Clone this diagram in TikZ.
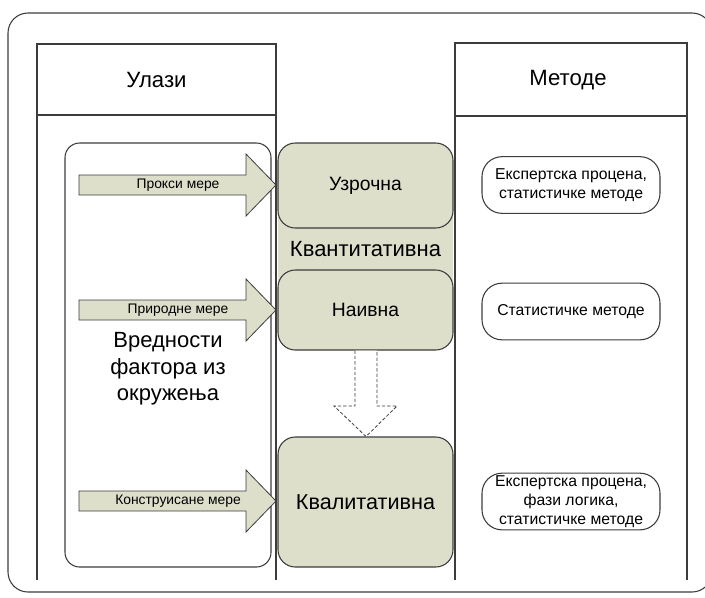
\documentclass[tikz,border=0pt]{standalone}
\usepackage{fontspec}
\setmainfont{Liberation Sans}
\definecolor{grn}{RGB}{221,223,203}
\definecolor{ln}{RGB}{60,60,60}
\tikzset{
  frame/.style={draw=ln, line width=0.8pt},
  hdrtext/.style={font=\fontsize{16.6}{19}\selectfont, inner sep=0pt},
  greenbox/.style={draw=ln, fill=grn, line width=0.8pt, rounded corners=13pt,
     inner sep=0pt, minimum width=131.25pt, align=center},
  smallbox/.style={greenbox, font=\fontsize{14.5}{17}\selectfont},
  bigbox/.style={greenbox, font=\fontsize{16.2}{19}\selectfont},
  blockarrow/.style={draw=ln, fill=grn, line width=0.6pt},
  arrlabel/.style={font=\fontsize{10.4}{12}\selectfont, inner sep=0pt},
  pill/.style={draw=ln, fill=white, line width=0.8pt, rounded corners=15pt,
     minimum width=133.5pt, minimum height=42.5pt, inner sep=0pt, align=center,
     font=\fontsize{11.8}{14.4}\selectfont},
}
\begin{document}
\begin{tikzpicture}[x=0.75pt,y=-0.75pt]
\useasboundingbox (0,0) rectangle (705,597);
\clip (0,0) rectangle (705,597);
% outer frame
\draw[frame, rounded corners=15pt] (8,13) rectangle (712,592);
% left column
\draw[frame] (37,580) -- (37,44) -- (276,44) -- (276,580);
\draw[frame] (37,115) -- (276,115);
\node[hdrtext] (ulazi) at (156.5,80) {Улази};
% right column
\draw[frame] (455,580) -- (455,43) -- (687,43) -- (687,580);
\draw[frame] (455,116) -- (687,116);
\node[hdrtext] (metode) at (568,80) {Методе};
% inner rounded rect
\draw[frame, rounded corners=11pt] (65,143) rectangle (271,567);
\node[font=\fontsize{16.5}{19.9}\selectfont, align=center, inner sep=0pt] (vred) at (168,369)
  {Вредности\\фактора из\\окружења};
% green container
\fill[grn, rounded corners=13pt] (278,143) rectangle (453,350);
\node[font=\fontsize{16.5}{19}\selectfont, inner sep=0pt] (kvant) at (365.5,249) {Квантитативна};
\node[smallbox, minimum height=63.75pt] (uzr) at (365.5,185.5) {Узрочна};
\node[smallbox, minimum height=60pt] (naiv) at (365.5,310) {Наивна};
\node[bigbox, minimum height=97.5pt] (kval) at (365.5,502) {Квалитативна};
% dashed block arrow
\draw[draw=ln, fill=white, dashed, line width=0.6pt, dash pattern=on 2.5pt off 1.5pt]
  (355,350.5) -- (355,406) -- (334,406) -- (366,436.5) -- (397,406) -- (377,406) -- (377,350.5);
% block arrows
\foreach \c/\nm/\txt in {185/a1/Прокси мере, 310/a2/Природне мере, 501/a3/Конструисане мере}{
  \draw[blockarrow] (79,\c-10) -- (246,\c-10) -- (246,\c-31) -- (276,\c) -- (246,\c+31)
     -- (246,\c+10) -- (79,\c+10) -- cycle;
  \node[arrlabel] (\nm) at (178,\c) {\txt};
}
% method pills
\node[pill] (m1) at (571,185) {Експертска процена,\\статистичке методе};
\node[pill] (m2) at (571,311.5) {Статистичке методе};
\node[pill] (m3) at (571,501.5) {Експертска процена,\\фази логика,\\статистичке методе};
\end{tikzpicture}
\end{document}
